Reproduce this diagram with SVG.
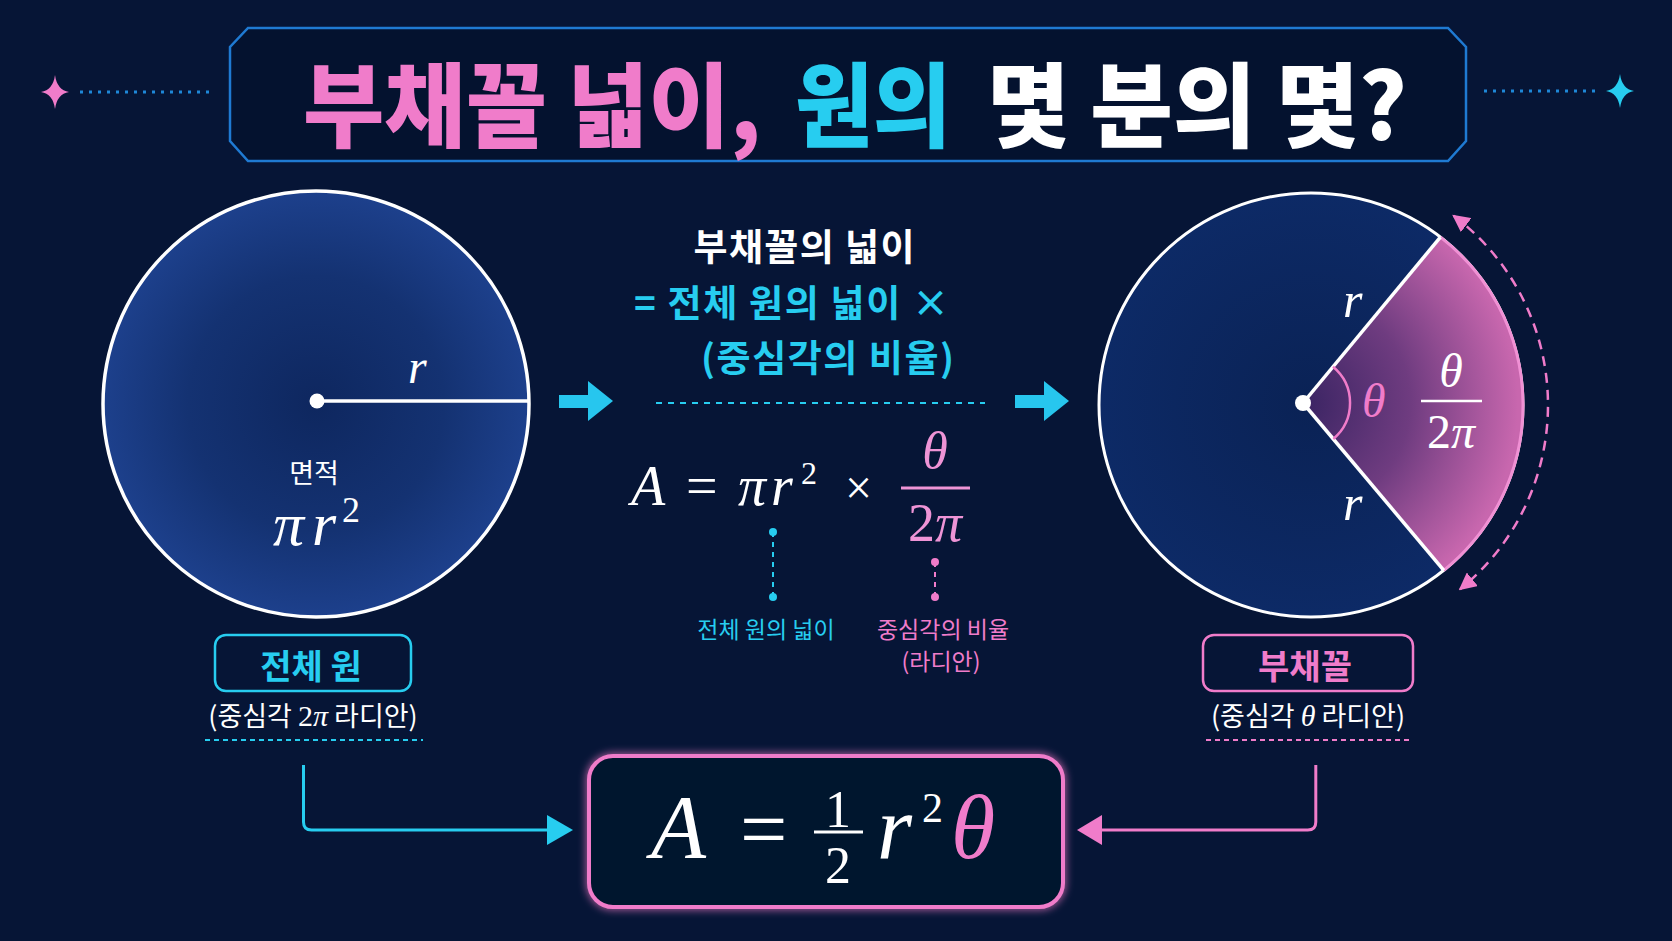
<svg xmlns="http://www.w3.org/2000/svg" width="1672" height="941" viewBox="0 0 1672 941">
<defs>
<style>
.kr{font-family:"Noto Sans CJK KR","Noto Sans",sans-serif;}
.b{font-weight:700;}
.bb{font-weight:900;}
.m{font-family:"Liberation Serif","DejaVu Serif",serif;font-style:italic;}
.u{font-family:"Liberation Serif","DejaVu Serif",serif;font-style:normal;}
.w{fill:#ffffff;}
.cy{fill:#27cdf0;}
.pk{fill:#f07cca;}
.pkl{fill:#ee94d6;}
</style>
<radialGradient id="gradL" cx="50%" cy="50%" r="50%">
<stop offset="0" stop-color="#0e275f"/>
<stop offset="0.6" stop-color="#143272"/>
<stop offset="1" stop-color="#1d408c"/>
</radialGradient>
<radialGradient id="gradR" cx="50%" cy="50%" r="50%">
<stop offset="0" stop-color="#0a2255"/>
<stop offset="1" stop-color="#0d2a66"/>
</radialGradient>
<radialGradient id="gradS" gradientUnits="userSpaceOnUse" cx="1303" cy="403" r="215">
<stop offset="0" stop-color="#3a2463"/>
<stop offset="0.5" stop-color="#6f3c80"/>
<stop offset="1" stop-color="#c867ae"/>
</radialGradient>
<filter id="glow" x="-20%" y="-20%" width="140%" height="140%">
<feGaussianBlur stdDeviation="4" result="b"/>
<feMerge><feMergeNode in="b"/><feMergeNode in="SourceGraphic"/></feMerge>
</filter>
<marker id="pkArrow" viewBox="0 0 10 10" refX="9" refY="5" markerWidth="7" markerHeight="7" orient="auto-start-reverse" markerUnits="strokeWidth">
<path d="M0,0 L10,5 L0,10 Z" fill="#f07cca"/>
</marker>
</defs>
<rect x="0" y="0" width="1672" height="941" fill="#061536"/>

<g id="title">
<path d="M248,28 L1448,28 L1466,47 L1466,141 L1448,161 L248,161 L230,141 L230,47 Z" fill="#04122f" stroke="#1f7ad2" stroke-width="2.5"/>
<text class="kr bb pk" x="303" y="140" font-size="92" textLength="458" lengthAdjust="spacingAndGlyphs">부채꼴 넓이,</text>
<text class="kr bb cy" x="795" y="140" font-size="92" textLength="156" lengthAdjust="spacingAndGlyphs">원의</text>
<text class="kr bb w" x="987" y="140" font-size="92" textLength="420" lengthAdjust="spacingAndGlyphs">몇 분의 몇?</text>
</g>

<g id="sparkles">
<path d="M55,75 Q57,90 69,92 Q57,94 55,109 Q53,94 41,92 Q53,90 55,75 Z" fill="#f07cca"/>
<line x1="80" y1="92" x2="210" y2="92" stroke="#1e88d8" stroke-width="3" stroke-dasharray="3 6"/>
<path d="M1620,74 Q1622,89 1634,91 Q1622,93 1620,108 Q1618,93 1606,91 Q1618,89 1620,74 Z" fill="#27cdf0"/>
<line x1="1484" y1="91" x2="1596" y2="91" stroke="#1e88d8" stroke-width="3" stroke-dasharray="3 6"/>
</g>

<g id="full-circle">
<circle cx="316" cy="404" r="213" fill="url(#gradL)" stroke="#ffffff" stroke-width="3.5"/>
<line x1="317" y1="401" x2="529" y2="401" stroke="#ffffff" stroke-width="3.5"/>
<circle cx="317" cy="401" r="7.5" fill="#ffffff"/>
<text class="m w" x="408" y="383" font-size="48">r</text>
<text class="kr w" x="314" y="483" font-size="27" text-anchor="middle">면적</text>
<text class="m w" x="273" y="545" font-size="62">π</text>
<text class="m w" x="312" y="545" font-size="62">r</text>
<text class="u w" x="342" y="522" font-size="36">2</text>
</g>

<g id="sector-circle">
<circle cx="1311" cy="405" r="212" fill="url(#gradR)" stroke="#ffffff" stroke-width="3"/>
<path d="M1303,403 L1440.4,237.1 A212,212 0 0 1 1443.8,570.3 Z" fill="url(#gradS)"/>
<path d="M1440.4,237.1 A212,212 0 0 1 1443.8,570.3" fill="none" stroke="#f090d4" stroke-width="3"/>
<line x1="1303" y1="403" x2="1440.4" y2="237.1" stroke="#ffffff" stroke-width="3.5"/>
<line x1="1303" y1="403" x2="1443.8" y2="570.3" stroke="#ffffff" stroke-width="3.5"/>
<path d="M1333,366.8 A47,47 0 0 1 1333.3,439" fill="none" stroke="#f07cca" stroke-width="2.5"/>
<circle cx="1303" cy="403" r="8" fill="#ffffff"/>
<text class="m pk" x="1362" y="417" font-size="48">θ</text>
<text class="m w" x="1451" y="387" font-size="48" text-anchor="middle">θ</text>
<line x1="1421" y1="401" x2="1482" y2="401" stroke="#ffffff" stroke-width="2.5"/>
<text class="w" x="1451" y="448" font-size="48" text-anchor="middle"><tspan class="u">2</tspan><tspan class="m">π</tspan></text>
<text class="m w" x="1343" y="317" font-size="50">r</text>
<text class="m w" x="1343" y="520" font-size="50">r</text>
<path d="M1453.6,215.7 A237,237 0 0 1 1460.1,589.2" fill="none" stroke="#f07cca" stroke-width="2.5" stroke-dasharray="10 7" marker-start="url(#pkArrow)" marker-end="url(#pkArrow)"/>
</g>

<g id="explanation">
<text class="kr b w" x="804" y="261" font-size="37" text-anchor="middle" textLength="221">부채꼴의 넓이</text>
<text class="kr b cy" x="634" y="317" font-size="37" textLength="315">= 전체 원의 넓이 ×</text>
<text class="kr b cy" x="701" y="372" font-size="37" textLength="253">(중심각의 비율)</text>
</g>

<g id="formula">
<text class="m w" x="631" y="505" font-size="56">A</text>
<text class="u w" x="686" y="505" font-size="56">=</text>
<text class="m w" x="738" y="505" font-size="56">π</text>
<text class="m w" x="771" y="505" font-size="56">r</text>
<text class="u w" x="801" y="484" font-size="32">2</text>
<text class="u w" x="845" y="504" font-size="48">×</text>
<text class="m pkl" x="935" y="468" font-size="52" text-anchor="middle">θ</text>
<line x1="901" y1="488" x2="970" y2="488" stroke="#ee94d6" stroke-width="3"/>
<text class="pkl" x="935" y="541" font-size="54" text-anchor="middle"><tspan class="u">2</tspan><tspan class="m">π</tspan></text>
</g>

<g id="callouts">
<line x1="773" y1="532" x2="773" y2="597" stroke="#27cdf0" stroke-width="2" stroke-dasharray="5 5"/>
<circle cx="773" cy="532" r="4" fill="#27cdf0"/>
<circle cx="773" cy="597" r="4" fill="#27cdf0"/>
<line x1="935" y1="562" x2="935" y2="597" stroke="#f07cca" stroke-width="2" stroke-dasharray="5 5"/>
<circle cx="935" cy="562" r="4" fill="#f07cca"/>
<circle cx="935" cy="597" r="4" fill="#f07cca"/>
<text class="kr cy" x="766" y="638" font-size="23" text-anchor="middle">전체 원의 넓이</text>
<text class="kr pk" x="943" y="638" font-size="23" text-anchor="middle">중심각의 비율</text>
<text class="kr pk" x="941" y="670" font-size="23" text-anchor="middle">(라디안)</text>
</g>

<g id="label-full">
<rect x="215" y="635" width="196" height="56" rx="11" fill="none" stroke="#27cdf0" stroke-width="2.5"/>
<text class="kr b cy" x="311" y="679" font-size="34" text-anchor="middle">전체 원</text>
<text class="kr w" x="313" y="726" font-size="27" text-anchor="middle">(중심각 <tspan class="u" font-size="30">2</tspan><tspan class="m" font-size="30">π</tspan> 라디안)</text>
<line x1="205" y1="740" x2="423" y2="740" stroke="#27cdf0" stroke-width="2" stroke-dasharray="5 4"/>
</g>

<g id="label-sector">
<rect x="1203" y="635" width="210" height="56" rx="11" fill="none" stroke="#f07cca" stroke-width="2.5"/>
<text class="kr b pk" x="1305" y="679" font-size="34" text-anchor="middle">부채꼴</text>
<text class="kr w" x="1308" y="726" font-size="27" text-anchor="middle">(중심각 <tspan class="m" font-size="30">θ</tspan> 라디안)</text>
<line x1="1206" y1="740" x2="1410" y2="740" stroke="#f07cca" stroke-width="2" stroke-dasharray="5 4"/>
</g>

<g id="connectors">
<polygon points="559,395 588,395 588,381 613,401 588,421 588,408 559,408" fill="#27c6ee"/>
<polygon points="1015,395 1044,395 1044,381 1069,401 1044,421 1044,408 1015,408" fill="#27c6ee"/>
<line x1="656" y1="403" x2="985" y2="403" stroke="#27cdf0" stroke-width="2" stroke-dasharray="6 6"/>
<path d="M303.5,765 L303.5,822 Q303.5,830 311.5,830 L550,830" fill="none" stroke="#27cdf0" stroke-width="3"/>
<polygon points="547,815 573,830 547,845" fill="#27cdf0"/>
<path d="M1315.8,765 L1315.8,822 Q1315.8,830 1307.8,830 L1100,830" fill="none" stroke="#f07cca" stroke-width="3"/>
<polygon points="1102,815 1077,830 1102,845" fill="#f07cca"/>
</g>

<g id="result">
<rect x="589" y="756" width="474" height="151" rx="24" fill="#05142f" stroke="#f07cca" stroke-width="4" filter="url(#glow)"/>
<text class="m w" x="651" y="858" font-size="90">A</text>
<text class="u w" x="740" y="858" font-size="84">=</text>
<text class="u w" x="838" y="827" font-size="52" text-anchor="middle">1</text>
<line x1="814" y1="832" x2="863" y2="832" stroke="#ffffff" stroke-width="3"/>
<text class="u w" x="838" y="883" font-size="52" text-anchor="middle">2</text>
<text class="m w" x="877" y="858" font-size="90">r</text>
<text class="u w" x="922" y="822" font-size="42">2</text>
<text class="m pk" x="951" y="858" font-size="90">θ</text>
</g>
</svg>
